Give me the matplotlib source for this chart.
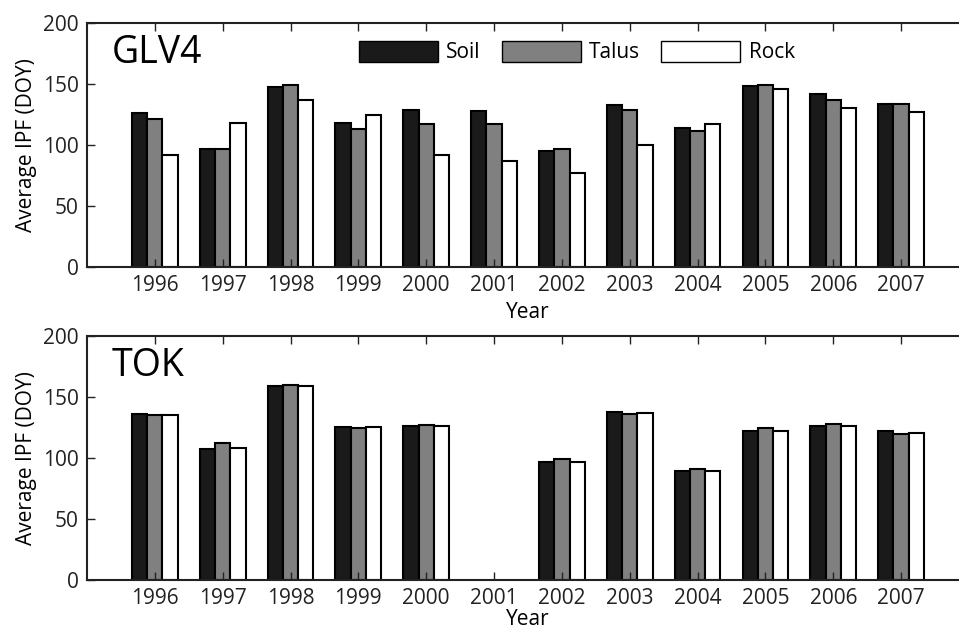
import numpy as np
import matplotlib
matplotlib.use("Agg")
import matplotlib.pyplot as plt
from matplotlib.patches import Patch

plt.rcParams['font.family'] = ['Open Sans', 'DejaVu Sans']

# Data
years = [1996, 1997, 1998, 1999, 2000, 2001, 2002, 2003, 2004, 2005, 2006, 2007]
series = ['Soil', 'Talus', 'Rock']

glv4_soil = [126, 96.7, 147.3, 117.8, 128.4, 127.6, 94.8, 132.8, 113.9, 148.1, 141.5, 133.3]
glv4_talus = [121.3, 96.7, 148.9, 113.4, 117.5, 116.9, 96.7, 128.7, 111.7, 149.5, 136.9, 133.3]
glv4_rock = [91.5, 117.8, 137.2, 124.9, 91.5, 87.2, 77.3, 100.3, 117.5, 146.2, 130.1, 127.0]

tok_soil = [135.9, 107.5, 159.1, 125.0, 126.3, np.nan, 96.9, 137.8, 89.5, 122.0, 126.1, 122.0]
tok_talus = [135.1, 112.1, 159.6, 124.1, 127.1, np.nan, 98.8, 136.2, 91.1, 124.7, 127.4, 119.8]
tok_rock = [134.8, 108.0, 159.1, 125.5, 126.3, np.nan, 96.3, 136.7, 89.5, 122.0, 125.8, 120.3]

colors = ['#1a1a1a', '#808080', '#ffffff']

fig = plt.figure(figsize=(9.59, 6.31), dpi=100)
ax1 = fig.add_axes([0.0907, 0.5769, 0.9197, 0.3866])
ax2 = fig.add_axes([0.0907, 0.0808, 0.9197, 0.3872])

x = np.array(years, dtype=float)
w = 0.225

def draw(ax, vals, name, xpad):
    for i, v in enumerate(vals):
        ax.bar(x + (i - 1) * w, v, width=w, color=colors[i],
               edgecolor='black', linewidth=1.5, label=series[i])
    ax.set_xlim(1995, 2008)
    ax.set_ylim(0, 200)
    ax.set_xticks(years)
    ax.set_yticks([0, 50, 100, 150, 200])
    ax.tick_params(direction='in', length=6, width=1.0, labelsize=15,
                   top=True, right=True, colors='#222222', pad=6)
    for s in ax.spines.values():
        s.set_linewidth(1.5)
        s.set_color('#222222')
    ax.spines['right'].set_visible(False)
    ax.set_ylabel('Average IPF (DOY)', fontsize=15, labelpad=4)
    ax.set_xlabel('Year', fontsize=15, labelpad=xpad)
    ax.text(0.028, 0.835, name, transform=ax.transAxes, fontsize=27)

draw(ax1, [glv4_soil, glv4_talus, glv4_rock], 'GLV4', 4)
draw(ax2, [tok_soil, tok_talus, tok_rock], 'TOK', 0)

handles = [Patch(facecolor=c, edgecolor='black', linewidth=1.0) for c in colors]
ax1.legend(handles, series, loc='upper left', bbox_to_anchor=(0.287, 1.005),
           ncol=3, frameon=False, fontsize=15, handlelength=3.8, handleheight=1.2,
           handletextpad=0.4, columnspacing=1.0)

fig.savefig('out.png', dpi=100)
